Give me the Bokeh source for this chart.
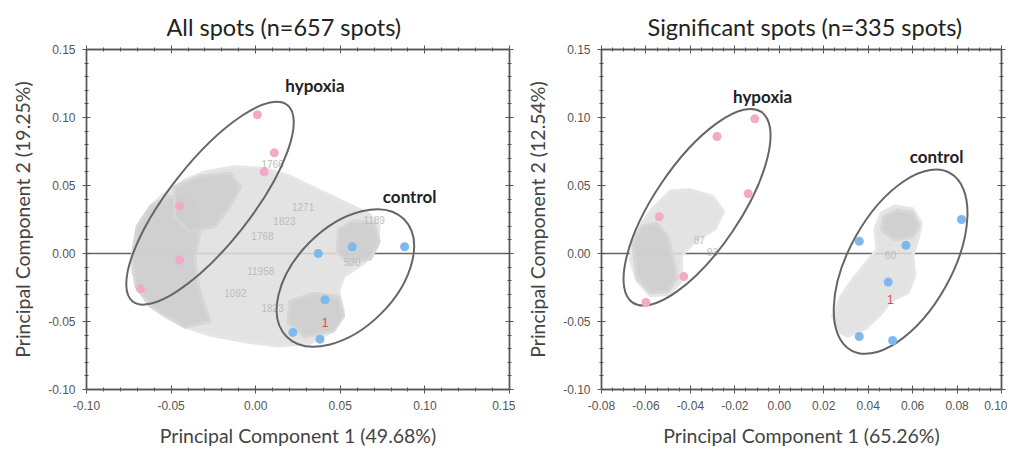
from bokeh.plotting import figure
from bokeh.models import (Range1d, LinearAxis, FixedTicker, PrintfTickFormatter,
                          Span, Title, CustomLabelingPolicy)
from bokeh.layouts import row
from bokeh.core.properties import value
from bokeh.embed import file_html
from bokeh.resources import INLINE
import math

# ---------------- data: left panel (all spots) ----------------
L_title = "All spots (n=657 spots)"
L_xlabel = "Principal Component 1 (49.68%)"
L_ylabel = "Principal Component 2 (19.25%)"
L_xticks = [-0.10, -0.05, 0.00, 0.05, 0.10, 0.15]
L_yticks = [-0.10, -0.05, 0.00, 0.05, 0.10, 0.15]
L_hyp_x = [0.001, 0.011, 0.005, -0.045, -0.045, -0.068]
L_hyp_y = [0.102, 0.074, 0.060, 0.035, -0.005, -0.026]
L_ctl_x = [0.057, 0.088, 0.037, 0.041, 0.022, 0.038]
L_ctl_y = [0.005, 0.005, 0.000, -0.034, -0.058, -0.063]
L_red_x, L_red_y = [0.041], [-0.051]
# spot cloud outline (all spot labels)
L_cloud_x = [-0.073, -0.070, -0.062, -0.054, -0.042, -0.030, -0.012, 0.005, 0.020, 0.038, 0.052,
             0.067, 0.073, 0.072, 0.064, 0.052, 0.049, 0.052, 0.046, 0.032, 0.014, -0.006,
             -0.027, -0.042, -0.054, -0.064, -0.069, -0.073]
L_cloud_y = [-0.002, 0.020, 0.035, 0.044, 0.054, 0.060, 0.064, 0.0625, 0.057, 0.046, 0.038,
             0.029, 0.020, 0.005, -0.007, -0.017, -0.028, -0.043, -0.057, -0.066, -0.068, -0.065,
             -0.060, -0.054, -0.046, -0.037, -0.024, -0.013]
L_dense = [
    ([-0.073, -0.070, -0.062, -0.051, -0.036, -0.033, -0.036, -0.033, -0.027, -0.042, -0.062, -0.071],
     [-0.002, 0.020, 0.035, 0.042, 0.038, 0.016, -0.006, -0.028, -0.050, -0.054, -0.039, -0.024]),
    ([-0.048, -0.033, -0.015, -0.009, -0.015, -0.024, -0.039, -0.048],
     [0.049, 0.057, 0.059, 0.049, 0.035, 0.020, 0.016, 0.027]),
    ([0.049, 0.058, 0.070, 0.073, 0.068, 0.055, 0.048],
     [0.018, 0.024, 0.022, 0.009, -0.004, -0.007, 0.001]),
    ([0.020, 0.035, 0.049, 0.052, 0.046, 0.029, 0.019],
     [-0.035, -0.029, -0.032, -0.046, -0.057, -0.061, -0.051]),
]
L_ids = ["1823", "1768", "1766", "1271", "11958", "1092", "530", "1823", "1189"]
L_ids_x = [0.017, 0.004, 0.010, 0.028, 0.003, -0.012, 0.057, 0.010, 0.070]
L_ids_y = [0.024, 0.013, 0.066, 0.034, -0.013, -0.029, -0.006, -0.040, 0.025]
L_lab = ["hypoxia", "control"]
L_lab_x = [0.035, 0.091]
L_lab_y = [0.1235, 0.042]
# ellipse: centre (data), full axes (px), angle (deg)
L_ell_x = [-0.027, 0.053]
L_ell_y = [0.037, -0.018]
L_ell_w = [250, 166]
L_ell_h = [82, 101]
L_ell_a = [51.8, 45.0]

# ---------------- data: right panel (significant spots) ----------------
R_title = "Significant spots (n=335 spots)"
R_xlabel = "Principal Component 1 (65.26%)"
R_ylabel = "Principal Component 2 (12.54%)"
R_xticks = [-0.08, -0.06, -0.04, -0.02, 0.00, 0.02, 0.04, 0.06, 0.08, 0.10]
R_yticks = [-0.10, -0.05, 0.00, 0.05, 0.10, 0.15]
R_hyp_x = [-0.011, -0.028, -0.014, -0.054, -0.043, -0.060]
R_hyp_y = [0.099, 0.086, 0.044, 0.027, -0.017, -0.036]
R_ctl_x = [0.082, 0.036, 0.057, 0.049, 0.036, 0.051]
R_ctl_y = [0.025, 0.009, 0.006, -0.021, -0.061, -0.064]
R_red_x, R_red_y = [0.050], [-0.034]
R_clouds = [
    ([-0.049, -0.040, -0.030, -0.025, -0.029, -0.038, -0.044, -0.044, -0.049, -0.058, -0.064,
      -0.067, -0.066, -0.062, -0.057],
     [0.046, 0.047, 0.042, 0.031, 0.018, 0.009, -0.002, -0.020, -0.030, -0.031, -0.020,
      -0.005, 0.009, 0.022, 0.033]),
    ([0.046, 0.052, 0.060, 0.064, 0.062, 0.060, 0.061, 0.058, 0.050, 0.046, 0.039, 0.031,
      0.026, 0.024, 0.028, 0.033, 0.039, 0.044, 0.043],
     [0.030, 0.035, 0.033, 0.022, 0.008, -0.002, -0.016, -0.029, -0.035, -0.044, -0.055,
      -0.061, -0.057, -0.046, -0.031, -0.019, -0.007, 0.003, 0.018]),
]
R_dense = [
    ([-0.066, -0.062, -0.055, -0.050, -0.048, -0.046, -0.050, -0.058, -0.064],
     [0.008, 0.020, 0.022, 0.012, -0.002, -0.018, -0.028, -0.029, -0.018]),
    ([0.047, 0.053, 0.060, 0.063, 0.060, 0.052, 0.046],
     [0.027, 0.032, 0.030, 0.020, 0.012, 0.010, 0.017]),
]
R_ids = ["87", "93", "60"]
R_ids_x = [-0.036, -0.030, 0.050]
R_ids_y = [0.010, 0.001, -0.001]
R_lab = ["hypoxia", "control"]
R_lab_x = [-0.0075, 0.0708]
R_lab_y = [0.1155, 0.0715]
R_ell_x = [-0.037, 0.0546]
R_ell_y = [0.034, -0.006]
R_ell_w = [230, 203]
R_ell_h = [86, 103]
R_ell_a = [56.0, 60.8]

PINK = "#f3a9c9"
BLUE = "#7db9ec"
AXC = "#555555"


def minor_between(ticks, n):
    out = []
    for a, b in zip(ticks[:-1], ticks[1:]):
        step = (b - a) / n
        out += [round(a + k * step, 4) for k in range(1, n)]
    return out


def style_axis(ax, labels=True):
    ax.axis_line_color = AXC
    ax.axis_line_width = 1.4
    ax.major_tick_line_color = AXC
    ax.minor_tick_line_color = AXC
    ax.major_tick_in = 4
    ax.major_tick_out = 4
    ax.minor_tick_in = 2
    ax.minor_tick_out = 2
    ax.major_label_text_font = "Liberation Sans"
    ax.major_label_text_font_size = "12px"
    ax.major_label_text_color = "#555555"
    ax.major_label_standoff = 7
    ax.axis_label_text_font = "Lato"
    ax.axis_label_text_font_size = "19.5px"
    ax.axis_label_text_font_style = "normal"
    ax.axis_label_text_color = "#444444"
    if not labels:
        ax.major_label_policy = CustomLabelingPolicy(
            code="for (const i of indices) { indices.unset(i) }; return indices")
        ax.major_label_text_font_size = "0px"
        ax.major_label_standoff = 0


def panel(xr, xticks, xminor_n, yticks, border_left, frame_w, title, xl, yl,
          hx, hy, cx, cy, rx, ry, clouds, dense, ids, idx, idy,
          lab, labx, laby, ex, ey, ew, eh, ea, title_off):
    p = figure(frame_width=frame_w, frame_height=340,
               x_range=Range1d(*xr), y_range=Range1d(-0.10, 0.15),
               output_backend="svg", toolbar_location=None,
               min_border_left=border_left, min_border_right=6,
               min_border_top=49, min_border_bottom=63)
    p.xgrid.visible = False
    p.ygrid.visible = False
    p.outline_line_color = AXC
    p.outline_line_width = 1.4
    p.title = Title(text=title, text_font="Lato", text_font_size="23.5px",
                    text_font_style="normal", text_color="#222222",
                    align="left", offset=title_off)
    xt = FixedTicker(ticks=xticks, minor_ticks=minor_between(xticks, xminor_n))
    yt = FixedTicker(ticks=yticks, minor_ticks=minor_between(yticks, 5))
    p.xaxis.ticker = xt
    p.yaxis.ticker = yt
    p.xaxis.formatter = PrintfTickFormatter(format="%.2f")
    p.yaxis.formatter = PrintfTickFormatter(format="%.2f")
    p.xaxis.axis_label = xl
    p.yaxis.axis_label = yl
    style_axis(p.xaxis[0])
    style_axis(p.yaxis[0])
    p.xaxis.axis_label_standoff = 11
    p.yaxis.axis_label_standoff = 11
    top = LinearAxis(ticker=FixedTicker(ticks=xticks, minor_ticks=minor_between(xticks, xminor_n)))
    style_axis(top, labels=False)
    p.add_layout(top, "above")
    right = LinearAxis(ticker=FixedTicker(ticks=yticks, minor_ticks=minor_between(yticks, 5)))
    style_axis(right, labels=False)
    p.add_layout(right, "right")

    p.add_layout(Span(location=0, dimension="width", line_color="#666666",
                      line_width=1.6, level="underlay"))
    for (px, py) in clouds:
        p.patch(px, py, fill_color="#dedede", fill_alpha=0.85, line_color="#e6e6e6",
                line_width=3)
    for (px, py) in dense:
        p.patch(px, py, fill_color="#cdcdcd", fill_alpha=0.9, line_color="#d6d6d6",
                line_width=3)
    p.text(x=idx, y=idy, text=ids, text_color="#bcbcbc", text_font=value("Liberation Sans"),
           text_font_size="10px", text_align="center", text_baseline="middle")
    p.ellipse(x=ex, y=ey, width=ew, height=eh, angle=[math.radians(a) for a in ea],
              width_units="screen", height_units="screen",
              fill_color=None, line_color="#666666", line_width=2)
    p.scatter(hx, hy, size=9, fill_color=PINK, line_color=None)
    p.scatter(cx, cy, size=9, fill_color=BLUE, line_color=None)
    p.text(x=rx, y=ry, text=["1"], text_color="#d94a4a", text_font=value("Liberation Sans"),
           text_font_size="12px", text_align="center", text_baseline="middle")
    p.text(x=labx, y=laby, text=lab, text_color="#222222", text_font=value("Lato"),
           text_font_style="bold", text_font_size="17px", text_align="center",
           text_baseline="middle")
    return p


p1 = panel((-0.10, 0.15), L_xticks, 5, L_yticks, 86, 423, L_title, L_xlabel, L_ylabel,
           L_hyp_x, L_hyp_y, L_ctl_x, L_ctl_y, L_red_x, L_red_y,
           [(L_cloud_x, L_cloud_y)], L_dense, L_ids, L_ids_x, L_ids_y,
           L_lab, L_lab_x, L_lab_y, L_ell_x, L_ell_y, L_ell_w, L_ell_h, L_ell_a, 80)
p2 = panel((-0.08, 0.10), R_xticks, 4, R_yticks, 86, 400, R_title, R_xlabel, R_ylabel,
           R_hyp_x, R_hyp_y, R_ctl_x, R_ctl_y, R_red_x, R_red_y,
           R_clouds, R_dense, R_ids, R_ids_x, R_ids_y,
           R_lab, R_lab_x, R_lab_y, R_ell_x, R_ell_y, R_ell_w, R_ell_h, R_ell_a, 46)

layout = row(p1, p2)
open("out.html", "w").write(file_html(layout, INLINE))
